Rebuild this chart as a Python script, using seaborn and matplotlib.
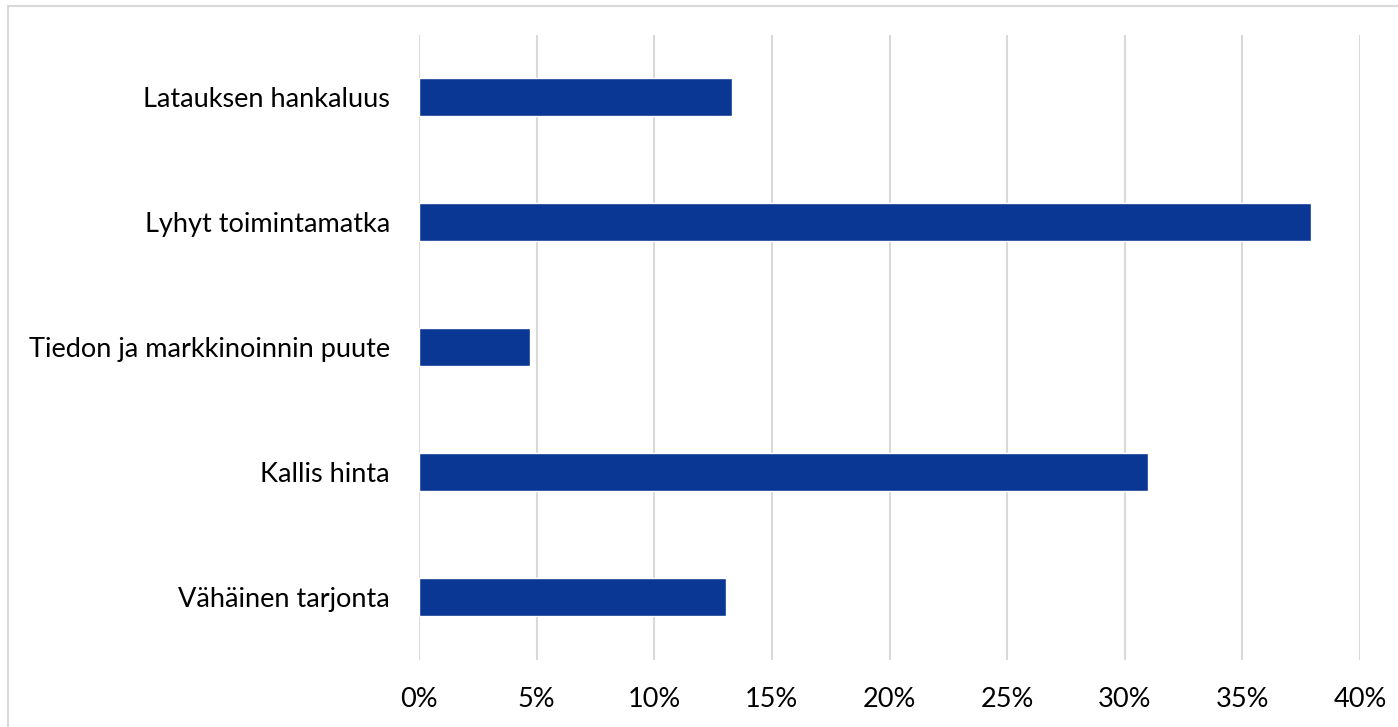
import numpy as np
import pandas as pd
import matplotlib.pyplot as plt
import matplotlib.patches as mpatches
from matplotlib.ticker import PercentFormatter
import seaborn as sns

categories = ["Latauksen hankaluus", "Lyhyt toimintamatka", "Tiedon ja markkinoinnin puute",
              "Kallis hinta", "Vähäinen tarjonta"]
shares = [13.3, 37.9, 4.7, 31.0, 13.05]

df = pd.DataFrame({"syy": categories, "osuus": shares})

sns.set_style("white")
plt.rcParams['font.family'] = ['Lato', 'DejaVu Sans']

W, H = 1398, 727
fig = plt.figure(figsize=(W / 100, H / 100), dpi=100)
ax = fig.add_axes([419 / W, 1 - 659.5 / H, (1360 - 419) / W, (659.5 - 34.5) / H])

sns.barplot(data=df, x="osuus", y="syy", color="#0A3694", width=0.31, saturation=1, ax=ax)

ax.set_xlim(0, 40)
ax.set_xticks(np.arange(0, 41, 5))
ax.xaxis.set_major_formatter(PercentFormatter(decimals=0))
ax.grid(axis="x", color="#D9D9D9", linewidth=1.5)
ax.set_axisbelow(True)
for s in ax.spines.values():
    s.set_visible(False)
ax.tick_params(axis="both", length=0, labelsize=19.5, colors="#000000")
ax.tick_params(axis="y", pad=21)
ax.tick_params(axis="x", pad=20)
ax.set_xlabel("")
ax.set_ylabel("")

# chart border (cropped at right and bottom)
fig.patches.append(mpatches.Rectangle((8 / W, -0.1), 1.2, 1 - 6 / H + 0.1, transform=fig.transFigure,
                                      fill=False, edgecolor="#D9D9D9", linewidth=1.5))

plt.savefig("out.png", dpi=100)
